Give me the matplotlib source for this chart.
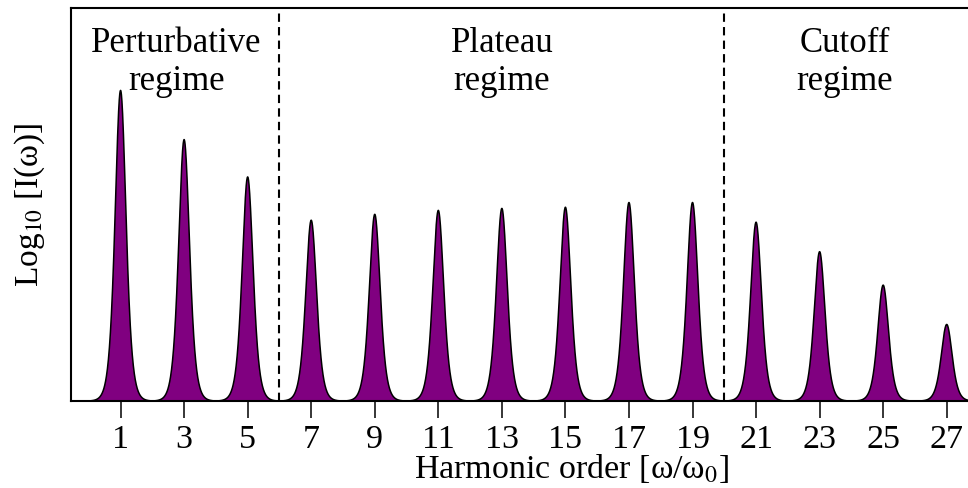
import numpy as np
import matplotlib
matplotlib.use("Agg")
from matplotlib import pyplot as plt

plt.rcParams['font.family'] = ['Liberation Serif', 'DejaVu Serif']
plt.rcParams['mathtext.fontset'] = 'stix'

# harmonic orders and peak heights (arbitrary log units, axis 0..1)
orders = [1, 3, 5, 7, 9, 11, 13, 15, 17, 19, 21, 23, 25, 27]
heights = [0.79, 0.665, 0.57, 0.46, 0.475, 0.485, 0.49, 0.493, 0.505, 0.505,
           0.455, 0.38, 0.295, 0.195]
boundaries = [6, 20]
regimes = ["Perturbative\nregime", "Plateau\nregime", "Cutoff\nregime"]
regime_x = [2.75, 13, 23.8]

width = 0.23  # line-shape width
xmin, xmax = -0.57, 30.96
x = np.linspace(xmin, xmax, 6000)

fig = plt.figure(figsize=(9.68, 4.88), dpi=100)
# axes runs past the right edge of the figure (cropped like the original)
ax = fig.add_axes([0.073, 0.178, 1.035, 0.806])

for h0, hh in zip(orders, heights):
    y = hh / np.cosh((x - h0) / width) ** 2
    ax.fill_between(x, 0, y, color='#800080', lw=0)
    ax.plot(x, y, color='black', lw=1.1)

for b in boundaries:
    ax.axvline(b, color='black', ls=(0, (4, 2.5)), lw=1.5)

for xt, t in zip(regime_x, regimes):
    ax.text(xt, 0.86, t, ha='center', va='center', fontsize=25,
            linespacing=1.2, transform=ax.get_xaxis_transform())

ax.set_xlim(xmin, xmax)
ax.set_ylim(0, 1)
ax.set_xticks(orders)
ax.set_yticks([])
ax.tick_params(axis='x', direction='out', length=12.5, width=1.1, labelsize=24.5, pad=4)
for s in ax.spines.values():
    s.set_linewidth(1.5)

ax.set_xlabel(r"Harmonic order [ω/ω$_0$]", fontsize=24.5, labelpad=-1.5)
ax.set_ylabel(r"Log$_{10}$ [I(ω)]", fontsize=24, labelpad=17)

fig.savefig("out.png", dpi=100)
